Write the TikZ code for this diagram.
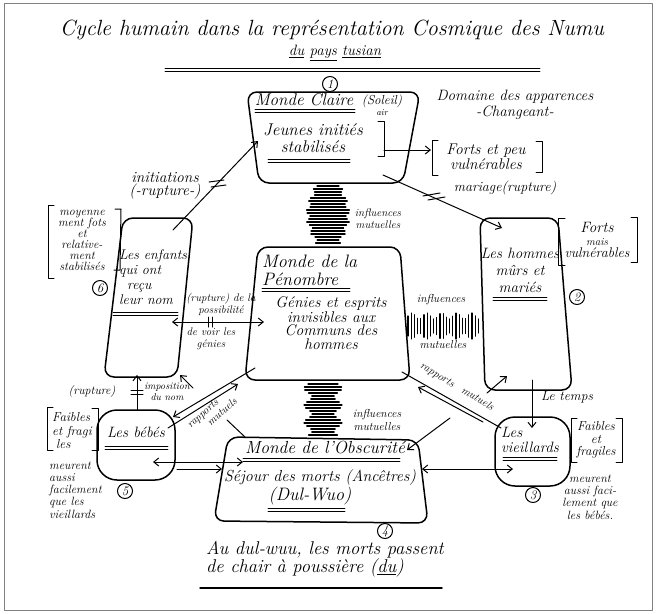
\documentclass[tikz,border=0pt]{standalone}
\usepackage{fontspec}
\usetikzlibrary{arrows.meta}
\begin{document}
\begin{tikzpicture}[x=1pt,y=-1pt,line cap=round,line join=round,
  box/.style={draw,line width=1.5pt,rounded corners=10pt},
  blob/.style={draw,line width=1.5pt,rounded corners=20pt},
  ln/.style={line width=1pt},
  ul/.style={line width=0.9pt},
  hat/.style={line width=1.2pt},
  arr/.style={line width=1pt,-{Straight Barb[length=5pt,width=8pt]}},
  darr/.style={line width=1pt,{Straight Barb[length=5pt,width=8pt]}-{Straight Barb[length=5pt,width=8pt]}},
  hw/.style 2 args={inner sep=0pt,align=center,font=\fontsize{#1}{#2}\selectfont\itshape\addfontfeatures{FakeBold=0.6}},
  num/.style={circle,draw,line width=1pt,inner sep=0pt,minimum size=15pt,font=\fontsize{13}{13}\selectfont\itshape\addfontfeatures{FakeBold=0.6}}]
\useasboundingbox (0,0) rectangle (657,614);
\draw[gray,line width=1pt] (4,3) rectangle (652,610);

% ---------- title
\node[hw={22}{22}] (title) at (332,30) {Cycle humain dans la représentation Cosmique des Numu};
\node[hw={15}{15}] (title2) at (335,53) {\underline{du} \underline{pays} \underline{tusian}};
\draw[ul] (165,68) -- (540,68);
\draw[ul] (165,71) -- (540,71);
\node[num] (n1) at (330,84) {1};

% ---------- box 1 : Monde Claire
\draw[box] (247,92) -- (420,92) -- (403,183) -- (259,183) -- cycle;
\node[hw={17}{17}] (mc) at (304,100) {Monde Claire};
\draw[ul] (255,109) -- (355,109); \draw[ul] (255,112) -- (355,112);
\node[hw={13}{11}] (sol) at (382,105) {(Soleil)\\{\fontsize{9}{9}\selectfont air}};
\node[hw={17}{17}] (ji) at (313,138) {Jeunes initiés\\stabilisés};
\draw[ul] (268,159) -- (350,159); \draw[ul] (268,162) -- (350,162);
\draw[ln] (378,121) -- (384,121) -- (384,156) -- (378,156);
\coordinate (b1r) at (384,150);
\coordinate (fpl) at (431,150);
\draw[arr] (b1r) -- (fpl);
\draw[ln] (438,140) -- (432,140) -- (432,175) -- (438,175);
\draw[ln] (536,141) -- (542,141) -- (542,172) -- (536,172);
\node[hw={15.5}{15}] (fp) at (486,157) {Forts et peu\\vulnérables};
\node[hw={15}{16}] (dom) at (515,105) {Domaine des apparences\\-Changeant-};

% ---------- mariage
\node[hw={14}{14}] (mar) at (505,188) {mariage(rupture)};
\coordinate (m0) at (383,175);
\coordinate (m1) at (502,228);
\draw[arr] (m0) -- (m1);
\draw[ln] (423,196) -- (440,193); \draw[ln] (428,200) -- (445,197);

% ---------- box 2 : hommes
\draw[box] (480,218) -- (558,218) -- (572,390) -- (485,390) -- cycle;
\node[hw={15}{17}] (hom) at (520,270) {Les hommes\\mûrs et\\mariés};
\draw[ul] (493,297) -- (547,297); \draw[ul] (493,300) -- (547,300);
\node[num] (n2) at (577,297) {2};
\draw[ln] (565,218) -- (558,218) -- (558,265) -- (565,265);
\draw[ln] (631,217) -- (637,217) -- (637,262) -- (631,262);
\node[hw={15}{12.5}] (fm) at (597,240) {Forts\\{\fontsize{11}{11}\selectfont mais}\\{\fontsize{14}{14}\selectfont vulnérables}};

% ---------- box 6 : enfants
\draw[box] (123,218) -- (193,218) -- (177,377) -- (104,377) -- cycle;
\node[hw={14}{15},align=left,anchor=west] (enf) at (119,277) {Les enfants\\qui ont\\\hspace*{8pt}reçu\\leur nom};
\draw[ul] (113,312) -- (178,312); \draw[ul] (113,315) -- (178,315);
\node[num] (n6) at (100,288) {6};
\draw[ln] (54,205) -- (48,205) -- (48,278) -- (54,278);
\draw[ln] (115,209) -- (121,209) -- (120,270) -- (114,270);
\node[hw={12}{11}] (moy) at (82,240) {moyenne\\ment fots\\et\\relative-\\ment\\stabilisés};

% ---------- initiations
\node[hw={15.5}{13}] (ini) at (165,186) {initiations\\(-rupture-)};
\coordinate (i0) at (173,230);
\coordinate (i1) at (258,141);
\draw[arr] (i0) -- (i1);
\draw[ln] (209,182) -- (224,180); \draw[ln] (211,187) -- (226,185);

% ---------- central box : Penombre
\draw[box] (258,247) -- (400,247) -- (410,380) -- (245,380) -- cycle;
\node[hw={18}{18},align=left,anchor=west] (pen) at (262,270) {Monde de la\\Pénombre};
\draw[ul] (262,288) -- (350,288); \draw[ul] (262,291) -- (350,291);
\node[hw={15.5}{13.5}] (gen) at (331,323) {Génies et esprits\\invisibles aux\\Communs des\\hommes};

% left double arrow
\coordinate (dl0) at (172,322);
\coordinate (dl1) at (264,322);
\draw[darr] (dl0) -- (dl1);
\draw[ln] (208,317) -- (208,327); \draw[ln] (212,317) -- (212,327);
\node[hw={11}{12}] (rp) at (221,304) {(rupture) de la\\possibilité};
\node[hw={11}{12}] (dv) at (211,339) {de voir les\\génies};

% ---------- hatches
\foreach \i in {0,...,19} {
  \pgfmathsetmacro\yy{186+3*\i}
  \pgfmathsetmacro\hwd{11+9*sin(180*\i/19)+2*sin(97*\i)}
  \draw[hat] ({328-\hwd},\yy) -- ({328+\hwd},\yy);
}
\node[hw={11}{12}] (inf1) at (378,219) {influences\\mutuelles};
\foreach \i in {0,...,22} {
  \pgfmathsetmacro\xx{408+3.2*\i}
  \pgfmathsetmacro\hh{10+3*sin(77*\i)}
  \draw[hat] (\xx,{326-\hh}) -- (\xx,{326+\hh});
}
\node[hw={11.5}{11}] (inf3) at (441,300) {influences};
\node[hw={11.5}{11}] (inf4) at (443,345) {mutuelles};
\foreach \i in {0,...,17} {
  \pgfmathsetmacro\yy{384+3*\i}
  \pgfmathsetmacro\hwd{15+4*sin(63*\i)}
  \draw[hat] ({323-\hwd},\yy) -- ({323+\hwd},\yy);
}
\node[hw={11.5}{13}] (inf5) at (377,420) {influences\\mutuelles};

% ---------- box 5 : bebes
\draw[blob] (97,410) rectangle (175,480);
\node[hw={15}{15}] (bb) at (136,432) {Les bébés};
\draw[ul] (105,446) -- (168,446); \draw[ul] (105,449) -- (168,449);
\node[num] (n5) at (125,491) {5};
\draw[ln] (53,407) -- (47,407) -- (47,450) -- (53,450);
\draw[ln] (92,408) -- (98,408) -- (98,450) -- (92,450);
\node[hw={13}{13.5},align=left,anchor=west] (fb) at (52,431) {Faibles\\et fragi\\\hspace*{4pt}les};
\node[hw={12}{12.3},align=left,anchor=west] (mb) at (49,490) {meurent\\aussi\\facilement\\que les\\vieillards};

% imposition du nom
\coordinate (im0) at (137,410);
\coordinate (im1) at (137,375);
\draw[arr] (im0) -- (im1);
\draw[ln] (131,390) -- (143,390); \draw[ln] (131,394) -- (143,394);
\node[hw={12}{12}] (rup) at (92,392) {(rupture)};
\node[hw={10}{11}] (imp) at (167,392) {imposition\\du nom};
\coordinate (c6a) at (193,388);
\coordinate (c6b) at (180,375);
\draw[arr] (c6a) -- (c6b);

% rapports mutuels left
\coordinate (ra0) at (255,368);
\coordinate (ra1) at (173,417);
\draw[arr] (ra0) -- (ra1);
\coordinate (rb0) at (168,428);
\coordinate (rb1) at (238,384);
\draw[arr] (rb0) -- (rb1);
\node[hw={11}{12},align=left,rotate=42] (rl) at (212,413) {rapports\\\hspace*{16pt}mutuels};
\coordinate (lk0) at (227,420);
\coordinate (lk1) at (245,437);
\draw[ln] (lk0) -- (lk1);

% rapports mutuels right
\coordinate (rc0) at (402,372);
\coordinate (rc1) at (501,428);
\draw[ln] (rc0) -- (rc1);
\coordinate (rd0) at (483,422);
\coordinate (rd1) at (418,387);
\draw[arr] (rd0) -- (rd1);
\node[hw={11}{11},rotate=-31] (rr) at (457,387) {rapports\hspace{6pt} mutuels};
\coordinate (ro0) at (450,418);
\coordinate (ro1) at (407,450);
\draw[arr] (ro0) -- (ro1);
\coordinate (h20) at (487,393);
\coordinate (h21) at (507,376);
\draw[arr] (h20) -- (h21);

% le temps
\coordinate (lt0) at (532,380);
\coordinate (lt1) at (532,428);
\draw[arr] (lt0) -- (lt1);
\node[hw={13.5}{13}] (temps) at (567,397) {Le temps};

% ---------- box 3 : vieillards
\draw[blob] (495,417) rectangle (570,486);
\node[hw={15}{15},align=left,anchor=west] (vie) at (501,440) {Les\\vieillards};
\draw[ul] (503,457) -- (557,457); \draw[ul] (503,460) -- (557,460);
\node[num] (n3) at (533,495) {3};
\draw[ln] (577,418) -- (571,418) -- (571,462) -- (577,462);
\draw[ln] (616,418) -- (622,418) -- (622,462) -- (616,462);
\node[hw={13}{12.5}] (fv) at (596,440) {Faibles\\et\\fragiles};
\node[hw={12}{12.3}] (mv) at (590,497) {meurent\\aussi faci-\\lement que\\les bébés.};

% double arrows to box 4
\coordinate (dr0) at (422,469);
\coordinate (dr1) at (513,469);
\draw[darr] (dr0) -- (dr1);
\coordinate (dd0) at (153,462);
\coordinate (dd1) at (243,462);
\draw[darr] (dd0) -- (dd1);
\coordinate (de0) at (177,469);
\coordinate (de1) at (222,469);
\draw[arr] (de0) -- (de1);

% ---------- box 4 : Obscurite
\draw[box] (228,437) -- (418,440) -- (428,523) -- (214,521) -- cycle;
\node[hw={17.5}{17}] (o1) at (325,448) {Monde de l'Obscurité};
\draw[ul] (243,458) -- (400,458); \draw[ul] (243,461) -- (400,461);
\node[hw={16}{16}] (o2) at (320,478) {Séjour des morts (Ancêtres)};
\node[hw={18}{18}] (o3) at (310,496) {(Dul-Wuo)};
\draw[ul] (268,508) -- (345,508); \draw[ul] (268,511) -- (345,511);
\node[num] (n4) at (385,531) {4};

% ---------- bottom note
\node[hw={18.5}{17},align=left,anchor=west] (bn) at (206,559) {Au dul-wuu, les morts passent\\de chair à poussière (\underline{du})};
\draw[line width=1.5pt] (200,588) -- (442,588);
\end{tikzpicture}
\end{document}
